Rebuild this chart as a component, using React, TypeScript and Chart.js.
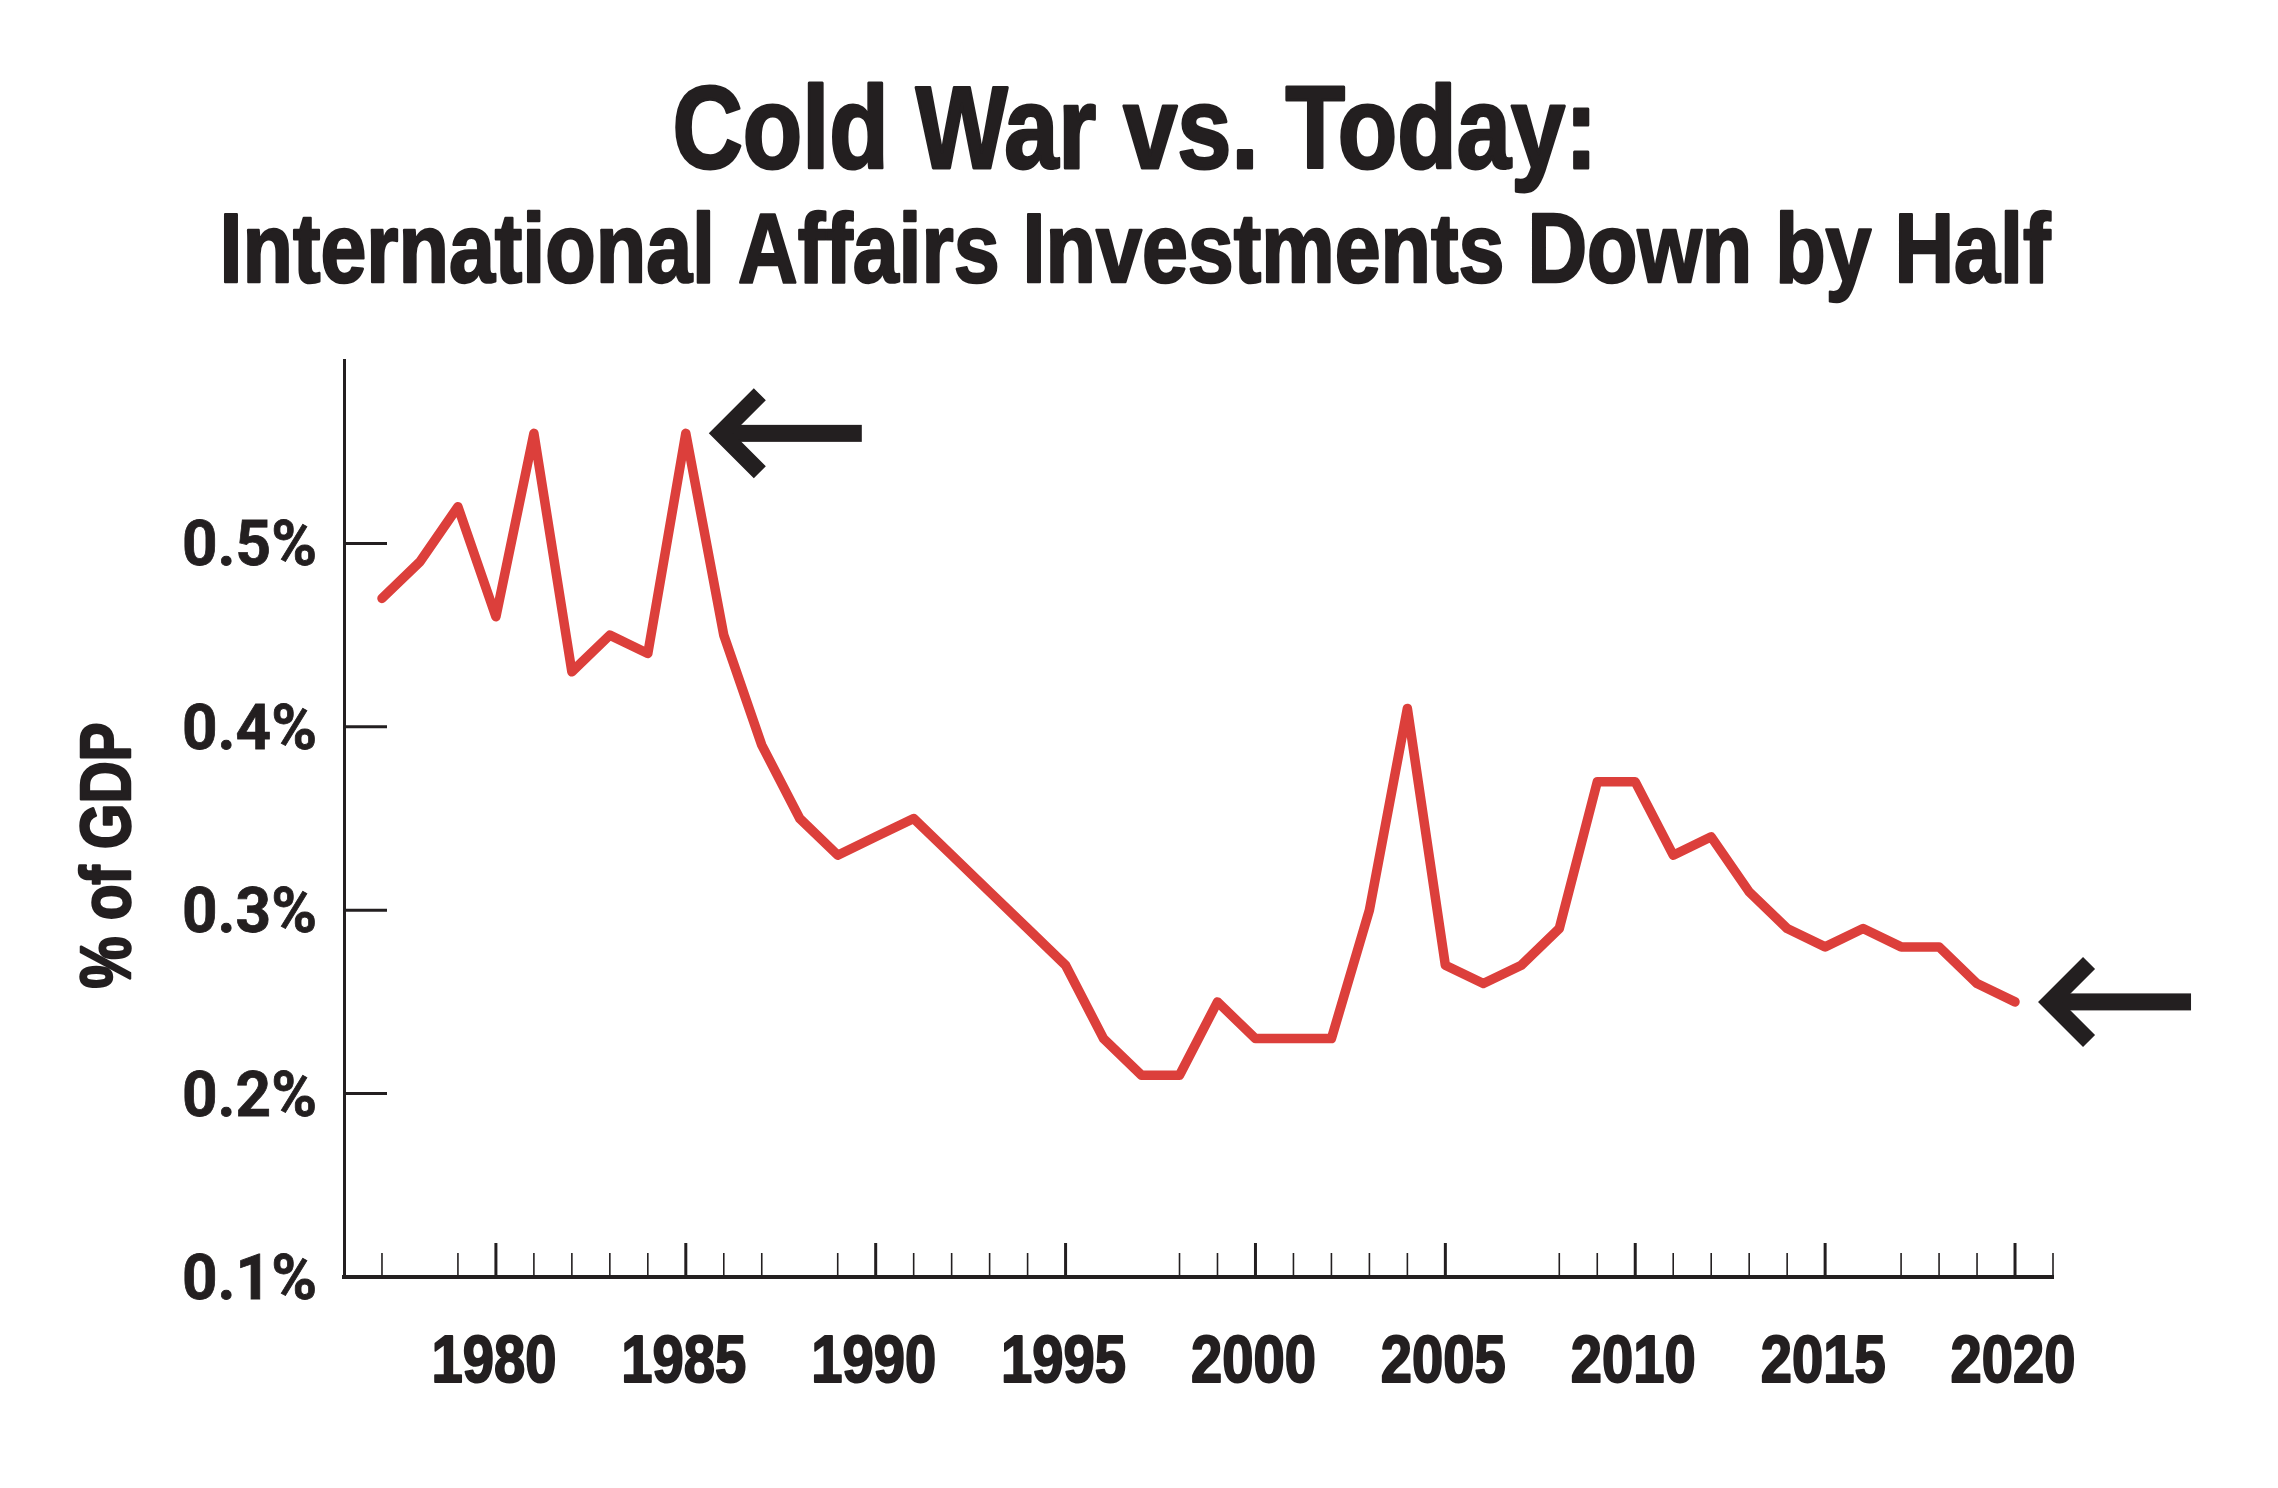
import React, { useEffect, useRef } from "react";
import { Chart, registerables } from "chart.js";

Chart.register(...registerables);

const TITLE = "Cold War vs. Today:";
const SUBTITLE = "International Affairs Investments Down by Half";
const Y_AXIS_TITLE = "% of GDP";

const years = [
  1977, 1978, 1979, 1980, 1981, 1982, 1983, 1984, 1985, 1986,
  1987, 1988, 1989, 1990, 1991, 1992, 1993, 1994, 1995, 1996,
  1997, 1998, 1999, 2000, 2001, 2002, 2003, 2004, 2005, 2006,
  2007, 2008, 2009, 2010, 2011, 2012, 2013, 2014, 2015, 2016,
  2017, 2018, 2019, 2020,
];
const pctOfGdp = [
  0.47, 0.49, 0.52, 0.46, 0.56, 0.43, 0.45, 0.44, 0.56, 0.45,
  0.39, 0.35, 0.33, 0.34, 0.35, 0.33, 0.31, 0.29, 0.27, 0.23,
  0.21, 0.21, 0.25, 0.23, 0.23, 0.23, 0.30, 0.41, 0.27, 0.26,
  0.27, 0.29, 0.37, 0.37, 0.33, 0.34, 0.31, 0.29, 0.28, 0.29,
  0.28, 0.28, 0.26, 0.25,
];

const yTickValues = [0.1, 0.2, 0.3, 0.4, 0.5];
const yTickLabels = ["0.1%", "0.2%", "0.3%", "0.4%", "0.5%"];
const xMajorTickYears = [1980, 1985, 1990, 1995, 2000, 2005, 2010, 2015, 2020];
const xTickLabels = ["1980", "1985", "1990", "1995", "2000", "2005", "2010", "2015", "2020"];
const xMinorTickYears = [
  1977, 1979, 1981, 1982, 1983, 1984, 1986, 1987, 1989, 1991, 1992, 1993, 1994,
  1998, 1999, 2001, 2002, 2003, 2004, 2008, 2009, 2011, 2012, 2013, 2014,
  2017, 2018, 2019, 2021,
];
const arrowYears = [1985, 2020];

const X_MIN = 1976;
const X_MAX = 2021;
const Y_MIN = 0.1;
const Y_MAX = 0.6;

const INK = "#231F20";
const RED = "#DC3F3B";
const W = 2262;
const H = 1472;

const SANS = '"Liberation Sans", Arial, Helvetica, sans-serif';
const DIN = 'Roboto, "Liberation Sans", Arial, sans-serif';

function fitText(
  ctx: CanvasRenderingContext2D,
  text: string,
  x: number,
  y: number,
  font: string,
  width: number,
  weightStroke: number
) {
  ctx.save();
  ctx.font = font;
  const w = ctx.measureText(text).width;
  ctx.translate(x, y);
  ctx.scale(width / w, 1);
  ctx.textAlign = "center";
  ctx.textBaseline = "alphabetic";
  ctx.fillText(text, 0, 0);
  if (weightStroke > 0) {
    ctx.lineWidth = weightStroke;
    ctx.lineJoin = "round";
    ctx.strokeText(text, 0, 0);
  }
  ctx.restore();
}

const decorPlugin = {
  id: "decor",
  beforeDatasetsDraw(chart: any) {
    const { ctx, chartArea, scales } = chart;
    const xs = scales.x;
    const ys = scales.y;
    ctx.save();
    ctx.strokeStyle = INK;
    ctx.lineCap = "butt";
    ctx.lineWidth = 3;
    yTickValues.forEach((v) => {
      if (v === Y_MIN) return;
      const py = ys.getPixelForValue(v);
      ctx.beginPath();
      ctx.moveTo(chartArea.left, py);
      ctx.lineTo(chartArea.left + 43, py);
      ctx.stroke();
    });
    ctx.lineWidth = 3;
    xMajorTickYears.forEach((yr) => {
      const px = xs.getPixelForValue(yr);
      ctx.beginPath();
      ctx.moveTo(px, chartArea.bottom);
      ctx.lineTo(px, chartArea.bottom - 34);
      ctx.stroke();
    });
    ctx.lineWidth = 1.6;
    xMinorTickYears.forEach((yr) => {
      const px = xs.getPixelForValue(yr);
      ctx.beginPath();
      ctx.moveTo(px, chartArea.bottom);
      ctx.lineTo(px, chartArea.bottom - 24);
      ctx.stroke();
    });
    ctx.restore();
  },
  afterDatasetsDraw(chart: any) {
    const { ctx, chartArea, scales } = chart;
    const xs = scales.x;
    const ys = scales.y;
    ctx.save();
    ctx.fillStyle = INK;
    ctx.strokeStyle = INK;

    const meta = chart.getDatasetMeta(0);
    arrowYears.forEach((yr) => {
      const idx = years.indexOf(yr);
      const pt = meta.data[idx];
      if (!pt) return;
      const tipX = pt.x + 23;
      const tipY = pt.y;
      const t = 17;
      const vx = tipX + t * 0.707;
      ctx.fillRect(vx, tipY - t / 2, tipX + 153 - vx, t);
      ctx.lineWidth = t;
      ctx.lineJoin = "miter";
      ctx.lineCap = "butt";
      ctx.beginPath();
      ctx.moveTo(vx + 39, tipY - 39);
      ctx.lineTo(vx, tipY);
      ctx.lineTo(vx + 39, tipY + 39);
      ctx.stroke();
    });

    const cx = 1127;
    fitText(ctx, TITLE, cx, 160, `bold 117px ${SANS}`, 925, 3);
    fitText(ctx, SUBTITLE, cx, 274, `bold 98px ${SANS}`, 1831, 2.5);

    ctx.font = `bold 63px ${DIN}`;
    const sy = 135 / ctx.measureText("0.5%").width;
    yTickValues.forEach((v, i) => {
      const py = ys.getPixelForValue(v);
      ctx.save();
      ctx.translate(chartArea.left - 27, py + 22);
      ctx.scale(sy, 1);
      ctx.textAlign = "right";
      ctx.textBaseline = "alphabetic";
      ctx.fillText(yTickLabels[i], 0, 0);
      ctx.lineWidth = 0.8;
      ctx.strokeText(yTickLabels[i], 0, 0);
      ctx.restore();
    });

    ctx.font = `bold 66px ${SANS}`;
    const sx = 125 / ctx.measureText("1980").width;
    xMajorTickYears.forEach((yr, i) => {
      const px = xs.getPixelForValue(yr);
      ctx.save();
      ctx.translate(px - 2, chartArea.bottom + 105);
      ctx.scale(sx, 1);
      ctx.textAlign = "center";
      ctx.textBaseline = "alphabetic";
      ctx.fillText(xTickLabels[i], 0, 0);
      ctx.lineWidth = 2;
      ctx.lineJoin = "round";
      ctx.strokeText(xTickLabels[i], 0, 0);
      ctx.restore();
    });

    ctx.save();
    ctx.translate(122, (chartArea.top + chartArea.bottom) / 2 + 37);
    ctx.rotate(-Math.PI / 2);
    fitText(ctx, Y_AXIS_TITLE, 0, 0, `bold 71px ${SANS}`, 266, 2.5);
    ctx.restore();

    ctx.restore();
  },
};

export default function App() {
  const ref = useRef<HTMLCanvasElement>(null);

  useEffect(() => {
    if (!ref.current) return;
    const chart = new Chart(ref.current, {
      type: "line",
      data: {
        datasets: [
          {
            label: "International Affairs (% of GDP)",
            data: years.map((yr, i) => ({ x: yr, y: pctOfGdp[i] })),
            borderColor: RED,
            backgroundColor: RED,
            borderWidth: 9.5,
            borderJoinStyle: "round",
            borderCapStyle: "round",
            pointRadius: 0,
            pointHoverRadius: 0,
            tension: 0,
            fill: false,
          },
        ],
      },
      options: {
        responsive: false,
        animation: false,
        devicePixelRatio: 1,
        layout: {
          autoPadding: false,
          padding: { left: 336, right: 217, top: 352, bottom: 203 },
        },
        plugins: {
          legend: { display: false },
          title: { display: false },
          tooltip: { enabled: false },
        },
        events: [],
        scales: {
          x: {
            type: "linear",
            min: X_MIN,
            max: X_MAX,
            grid: { display: false, drawTicks: false },
            ticks: { display: false },
            border: { display: true, color: INK, width: 4 },
          },
          y: {
            type: "linear",
            min: Y_MIN,
            max: Y_MAX,
            grid: { display: false, drawTicks: false },
            ticks: { display: false },
            border: { display: true, color: INK, width: 3 },
          },
        },
      } as any,
      plugins: [decorPlugin],
    });
    return () => chart.destroy();
  }, []);

  return (
    <div style={{ width: W, height: H, position: "relative" }}>
      <canvas
        ref={ref}
        width={W}
        height={H}
        style={{ display: "block", width: W, height: H }}
      />
    </div>
  );
}
